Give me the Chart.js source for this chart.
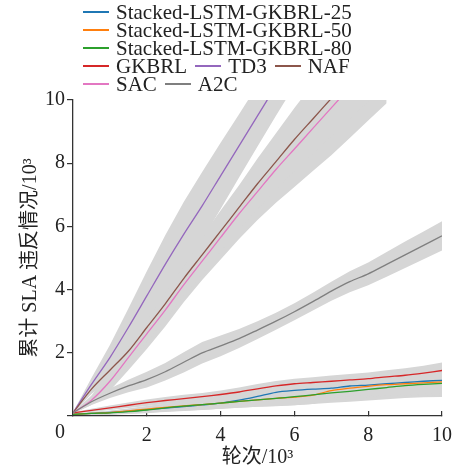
<!DOCTYPE html>
<html>
<head>
<meta charset="utf-8">
<script src="https://cdn.jsdelivr.net/npm/chart.js@4.4.1/dist/chart.umd.min.js"></script>
<style>
    html, body { margin: 0; padding: 0; background: #fff; }
    #wrap { position: relative; width: 465px; height: 473px; }
    #chart { position: absolute; left: 0; top: 0; }
    #legend {
        position: absolute; left: 83px; top: 3px; width: 285px;
        display: flex; flex-wrap: wrap; column-gap: 8px;
        font-family: "Liberation Serif", "Noto Sans CJK SC", serif;
        font-size: 21px; line-height: 18px; color: #222;
    }
    .item { display: flex; align-items: center; white-space: nowrap; height: 18px; }
    .swatch { width: 26px; height: 2px; margin-right: 7px; }
</style>
</head>
<body>
<div id="wrap">
    <canvas id="chart" width="465" height="473"></canvas>
    <div id="legend"></div>
</div>
<script>
// Rounds (x 10^3)
const rounds = [0, 0.5, 1, 1.5, 2, 2.5, 3, 3.5, 4, 4.5, 5, 5.5, 6, 6.5, 7, 7.5, 8, 8.5, 9, 9.5, 10];

// Cumulative SLA violations (x 10^3), mean per method
const stacked25 = [0.05, 0.08, 0.11, 0.15, 0.2, 0.25, 0.3, 0.35, 0.41, 0.5, 0.62, 0.75, 0.81, 0.85, 0.88, 0.95, 0.98, 1.02, 1.06, 1.1, 1.13];
const stacked50 = [0.05, 0.08, 0.11, 0.16, 0.22, 0.27, 0.32, 0.36, 0.41, 0.46, 0.51, 0.56, 0.6, 0.66, 0.8, 0.88, 0.94, 0.99, 1.02, 1.05, 1.08];
const stacked80 = [0.05, 0.08, 0.1, 0.14, 0.19, 0.26, 0.31, 0.36, 0.41, 0.46, 0.51, 0.56, 0.61, 0.67, 0.73, 0.78, 0.84, 0.9, 0.96, 1.0, 1.03];
const gkbrl = [0.1, 0.18, 0.26, 0.34, 0.42, 0.49, 0.55, 0.61, 0.68, 0.76, 0.86, 0.95, 1.02, 1.06, 1.1, 1.14, 1.18, 1.24, 1.29, 1.36, 1.44];
const td3 = [0.1, 1.0, 1.85, 2.8, 3.8, 4.8, 5.75, 6.65, 7.6, 8.55, 9.5, 10.45, 11.4];
const naf = [0.1, 0.85, 1.45, 2.05, 2.8, 3.55, 4.35, 5.1, 5.85, 6.6, 7.35, 8.05, 8.75, 9.4, 10.05, 10.7, 11.35];
const sac = [0.1, 0.5, 1.1, 1.85, 2.6, 3.35, 4.15, 4.9, 5.65, 6.4, 7.1, 7.8, 8.45, 9.1, 9.75, 10.4, 11.05, 11.7];
const a2c = [0.1, 0.45, 0.72, 0.95, 1.15, 1.4, 1.7, 2.0, 2.22, 2.45, 2.72, 3.0, 3.3, 3.62, 3.95, 4.25, 4.5, 4.8, 5.1, 5.4, 5.7];

// Spread of each method (shaded band = mean +/- spread)
const stacked25Spread = [0.02, 0.04, 0.06, 0.08, 0.1, 0.12, 0.14, 0.16, 0.18, 0.2, 0.22, 0.24, 0.26, 0.28, 0.3, 0.32, 0.34, 0.36, 0.38, 0.4, 0.42];
const stacked50Spread = [0.02, 0.04, 0.06, 0.08, 0.1, 0.12, 0.14, 0.16, 0.18, 0.2, 0.22, 0.24, 0.26, 0.28, 0.3, 0.32, 0.34, 0.36, 0.38, 0.4, 0.42];
const stacked80Spread = [0.02, 0.04, 0.06, 0.08, 0.1, 0.12, 0.14, 0.16, 0.18, 0.2, 0.22, 0.25, 0.27, 0.29, 0.31, 0.33, 0.35, 0.37, 0.39, 0.41, 0.43];
const gkbrlSpread = [0.02, 0.05, 0.07, 0.09, 0.1, 0.11, 0.12, 0.12, 0.13, 0.14, 0.15, 0.16, 0.16, 0.17, 0.18, 0.19, 0.2, 0.21, 0.22, 0.23, 0.25];
const td3Spread = [0.02, 0.2, 0.4, 0.6, 0.78, 0.92, 1.02, 1.07, 1.05, 1.0, 0.97, 0.95, 0.95];
const nafSpread = [0.02, 0.15, 0.3, 0.4, 0.45, 0.5, 0.55, 0.6, 0.65, 0.7, 0.8, 0.9, 1.0, 1.1, 1.2, 1.3, 1.4];
const sacSpread = [0.02, 0.15, 0.3, 0.4, 0.48, 0.52, 0.55, 0.6, 0.7, 0.8, 0.9, 1.05, 1.2, 1.35, 1.5, 1.6, 1.7, 1.8];
const a2cSpread = [0.02, 0.1, 0.15, 0.2, 0.25, 0.28, 0.32, 0.34, 0.33, 0.3, 0.28, 0.27, 0.27, 0.28, 0.3, 0.33, 0.36, 0.39, 0.42, 0.44, 0.46];

// Axis ticks
const xTicks = [0, 2, 4, 6, 8, 10];
const yTicks = [0, 2, 4, 6, 8, 10];

const seriesNames = ['Stacked-LSTM-GKBRL-25', 'Stacked-LSTM-GKBRL-50', 'Stacked-LSTM-GKBRL-80', 'GKBRL', 'TD3', 'NAF', 'SAC', 'A2C'];
const seriesColors = ['#1f77b4', '#ff7f0e', '#2ca02c', '#d62728', '#9467bd', '#8c564b', '#e377c2', '#7f7f7f'];
const seriesValues = [stacked25, stacked50, stacked80, gkbrl, td3, naf, sac, a2c];
const seriesSpreads = [stacked25Spread, stacked50Spread, stacked80Spread, gkbrlSpread, td3Spread, nafSpread, sacSpread, a2cSpread];

const BAND_COLOR = '#d6d6d6';
const TEXT_COLOR = '#222';
const AXIS_COLOR = '#333';
const FONT_FAMILY = '"Liberation Serif", "Noto Sans CJK SC", serif';

function toPoints(values, offsets, sign) {
    return values.map((v, i) => ({ x: rounds[i], y: v + sign * (offsets ? offsets[i] : 0) }));
}

// Shaded bands first (upper fills down to lower), then lines
const datasets = [];
seriesValues.forEach((values, i) => {
    datasets.push({
        label: seriesNames[i] + ' upper',
        data: toPoints(values, seriesSpreads[i], 1),
        borderColor: 'rgba(0,0,0,0)',
        borderWidth: 0,
        backgroundColor: BAND_COLOR,
        pointRadius: 0,
        fill: '+1'
    });
    datasets.push({
        label: seriesNames[i] + ' lower',
        data: toPoints(values, seriesSpreads[i], -1),
        borderColor: 'rgba(0,0,0,0)',
        borderWidth: 0,
        pointRadius: 0,
        fill: false
    });
});
// later series sit on top, so push lines in reverse
for (let i = seriesValues.length - 1; i >= 0; i--) {
    datasets.push({
        label: seriesNames[i],
        data: toPoints(seriesValues[i], null, 0),
        borderColor: seriesColors[i],
        borderWidth: 1.3,
        pointRadius: 0,
        tension: 0.3,
        fill: false
    });
}

// The shared "0" sits at the corner, below and left of the origin
const cornerZeroPlugin = {
    id: 'cornerZero',
    afterDraw(chart) {
        const { ctx } = chart;
        const x = chart.scales.x;
        ctx.save();
        ctx.font = '20px ' + FONT_FAMILY;
        ctx.fillStyle = TEXT_COLOR;
        ctx.textAlign = 'center';
        ctx.textBaseline = 'middle';
        ctx.fillText('0', x.left - 13, x.top + 17);
        ctx.restore();
    }
};

const tickFont = { family: FONT_FAMILY, size: 20 };

new Chart(document.getElementById('chart').getContext('2d'), {
    type: 'line',
    data: { datasets },
    options: {
        responsive: false,
        animation: false,
        layout: { padding: { top: 100, right: 14, left: 0, bottom: 0 } },
        plugins: {
            legend: { display: false },
            tooltip: { enabled: false },
            filler: { drawTime: 'beforeDatasetsDraw' }
        },
        scales: {
            x: {
                type: 'linear',
                min: 0,
                max: 10,
                afterFit: scale => { scale.height = 57; },
                afterBuildTicks: scale => { scale.ticks = xTicks.map(v => ({ value: v })); },
                ticks: {
                    font: tickFont,
                    color: TEXT_COLOR,
                    padding: 13,
                    maxRotation: 0,
                    callback: v => (v === 0 ? '' : v)
                },
                grid: { drawOnChartArea: false, tickLength: -5, color: AXIS_COLOR, lineWidth: 1.2 },
                border: { color: AXIS_COLOR, width: 1.3 },
                title: {
                    display: true,
                    text: '轮次/10³',
                    font: { family: FONT_FAMILY, size: 20 },
                    color: TEXT_COLOR,
                    padding: { top: 0, bottom: 3 }
                }
            },
            y: {
                min: 0,
                max: 10,
                afterFit: scale => { scale.width = 73; },
                afterBuildTicks: scale => { scale.ticks = yTicks.map(v => ({ value: v })); },
                ticks: {
                    font: tickFont,
                    color: TEXT_COLOR,
                    padding: 2,
                    callback: v => (v === 0 ? '' : v)
                },
                grid: { drawOnChartArea: false, tickLength: 6, color: AXIS_COLOR, lineWidth: 1.2 },
                border: { color: AXIS_COLOR, width: 1.3 },
                title: {
                    display: true,
                    text: '累计 SLA 违反情况/10³',
                    font: { family: FONT_FAMILY, size: 20 },
                    color: TEXT_COLOR,
                    padding: { top: 19, bottom: 0 }
                }
            }
        }
    },
    plugins: [cornerZeroPlugin]
});

// HTML legend built from the series names and colours
const legendEl = document.getElementById('legend');
seriesNames.forEach((name, i) => {
    const item = document.createElement('div');
    item.className = 'item';
    item.innerHTML = `<span class="swatch" style="background:${seriesColors[i]}"></span><span>${name}</span>`;
    legendEl.appendChild(item);
});
</script>
</body>
</html>
